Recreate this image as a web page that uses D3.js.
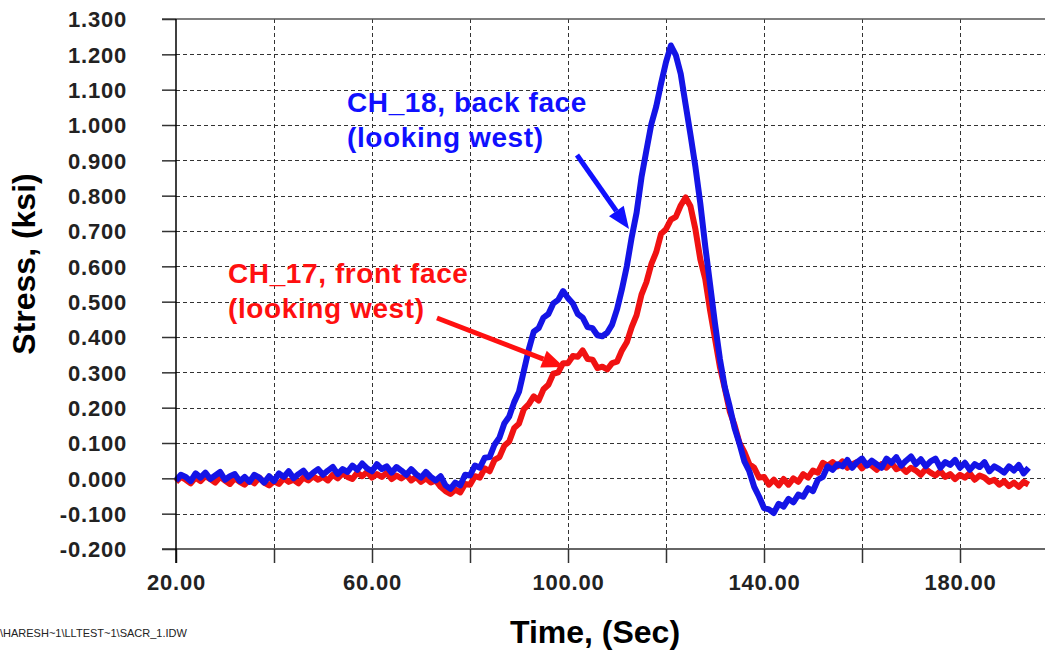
<!DOCTYPE html>
<html>
<head>
<meta charset="utf-8">
<script src="https://cdn.jsdelivr.net/npm/d3@7/dist/d3.min.js"></script>
<style>
  html, body { margin: 0; padding: 0; background: #ffffff; }
  svg { display: block; }
  text { font-family: "Liberation Sans", Arial, Helvetica, sans-serif; }
</style>
</head>
<body>
<svg id="chart" width="1045" height="651"></svg>
<script>
// ---- data (time in seconds, stress in ksi) ----
const timeStart = 20;   // first sample time, 1 s apart
const ch18 = [
 -0.006, 0.010, 0.004,-0.008, 0.014, 0.002, 0.016,-0.002, 0.008, 0.018,
 -0.004, 0.006, 0.012,-0.008, 0.004,-0.010, 0.010, 0.002,-0.012, 0.006,
 -0.008, 0.014, 0.004, 0.020, 0.000, 0.012, 0.022, 0.004, 0.016, 0.026,
  0.010, 0.022, 0.032, 0.012, 0.026, 0.018, 0.036, 0.024, 0.042, 0.028,
  0.020, 0.040, 0.026, 0.034, 0.016, 0.032, 0.022, 0.010, 0.026, 0.012,
  0.002, 0.018, 0.004,-0.006, 0.006,-0.020,-0.030,-0.012,-0.020, 0.010,
  0.008, 0.036, 0.030, 0.058, 0.060, 0.095, 0.115, 0.155, 0.175, 0.215,
  0.245, 0.305, 0.365, 0.415, 0.425, 0.455, 0.465, 0.495, 0.505, 0.530,
  0.510, 0.495, 0.465, 0.455, 0.428, 0.425, 0.405, 0.402, 0.412, 0.435,
  0.478, 0.535, 0.600, 0.682, 0.752, 0.852, 0.928, 1.002, 1.052, 1.118,
  1.178, 1.225, 1.198, 1.145, 1.058, 0.972, 0.882, 0.778, 0.658, 0.548,
  0.438, 0.338, 0.258, 0.203, 0.142, 0.098, 0.048, 0.020,-0.024,-0.052,
 -0.084,-0.088,-0.098,-0.072,-0.080,-0.058,-0.068,-0.046,-0.052,-0.028,
 -0.036,-0.004, 0.004, 0.034,
  0.024, 0.040, 0.034, 0.052, 0.030, 0.046, 0.056, 0.036, 0.050, 0.040,
  0.030, 0.056, 0.044, 0.060, 0.036, 0.050, 0.062, 0.040, 0.054, 0.034,
  0.048, 0.056, 0.030, 0.046, 0.038, 0.052, 0.030, 0.044, 0.024, 0.040,
  0.032, 0.046, 0.020, 0.034, 0.026, 0.016, 0.034, 0.022, 0.038, 0.014,
  0.030
];
const ch17 = [
 -0.010, 0.004,-0.004,-0.014, 0.002,-0.008, 0.006,-0.002,-0.012, 0.004,
 -0.006,-0.016, 0.000,-0.010,-0.018,-0.004,-0.014, 0.002,-0.012,-0.020,
 -0.008,-0.016, 0.000,-0.010,-0.004,-0.014, 0.002,-0.006, 0.006,-0.004,
  0.004,-0.006, 0.010, 0.000, 0.014, 0.004,-0.002, 0.016, 0.006, 0.018,
  0.002, 0.012, 0.004, 0.016,-0.002, 0.008, 0.000, 0.010,-0.006, 0.004,
 -0.010, 0.000,-0.012,-0.006,-0.024,-0.036,-0.044,-0.032,-0.040,-0.016,
 -0.018, 0.006, 0.002, 0.028, 0.020, 0.052, 0.060, 0.092, 0.104, 0.142,
  0.155, 0.196, 0.210, 0.232, 0.220, 0.252, 0.265, 0.296, 0.300, 0.326,
  0.326, 0.346, 0.344, 0.362, 0.338, 0.336, 0.312, 0.316, 0.308, 0.326,
  0.330, 0.362, 0.385, 0.428, 0.462, 0.520, 0.555, 0.606, 0.640, 0.692,
  0.705, 0.732, 0.740, 0.772, 0.795, 0.770, 0.705, 0.620, 0.565, 0.475,
  0.395, 0.315, 0.255, 0.190, 0.150, 0.100, 0.074, 0.040, 0.030, 0.002,
  0.004,-0.018,-0.004,-0.020,-0.002,-0.018, 0.000,-0.010, 0.012, 0.002,
  0.022, 0.016, 0.044, 0.036,
  0.046, 0.034, 0.048, 0.030, 0.040, 0.046, 0.028, 0.042, 0.036, 0.024,
  0.040, 0.030, 0.044, 0.026, 0.032, 0.018, 0.030, 0.022, 0.010, 0.026,
  0.016, 0.008, 0.020, 0.004, 0.012,-0.002, 0.010, 0.002, 0.014,-0.004,
  0.008, 0.002,-0.010,-0.004,-0.018,-0.008,-0.022,-0.012,-0.024,-0.010,
 -0.018
];
const yTicks = [-0.2,-0.1,0,0.1,0.2,0.3,0.4,0.5,0.6,0.7,0.8,0.9,1.0,1.1,1.2,1.3];
const xTicks = [20,40,60,80,100,120,140,160,180];
const xTickLabels = [20,60,100,140,180];
const annotations = [
  {lines:["CH_18, back face","(looking west)"], color:"#1010ff"},
  {lines:["CH_17, front face","(looking west)"], color:"#ff1010"}
];
const xTitle = "Time, (Sec)";
const yTitle = "Stress, (ksi)";
const footer = "\\HARESH~1\\LLTEST~1\\SACR_1.IDW";

(function () {
// ---- layout ----
const svg = d3.select("#chart");
const pL = 176, pT = 19, pB = 549, W = 1045;
const x = d3.scaleLinear().domain([20, 200]).range([pL, pL + 180 * 4.9]);
const y = d3.scaleLinear().domain([-0.2, 1.3]).range([pB, pT]);
const fmtY = d => d3.format(".3f")(d).replace("\u2212", "-");

// grid
const grid = svg.append("g");
grid.selectAll("line.hg").data(yTicks.filter(v => v > -0.15 && v < 1.25)).enter()
  .append("line").attr("x1", pL).attr("x2", W)
  .attr("y1", d => Math.round(y(d)) + 0.5).attr("y2", d => Math.round(y(d)) + 0.5)
  .attr("stroke", "#333").attr("stroke-width", 1).attr("stroke-dasharray", "4,3");
grid.selectAll("line.vg").data(xTicks.filter(v => v > 20)).enter()
  .append("line").attr("y1", pT).attr("y2", pB)
  .attr("x1", d => Math.round(x(d)) + 0.5).attr("x2", d => Math.round(x(d)) + 0.5)
  .attr("stroke", "#333").attr("stroke-width", 1).attr("stroke-dasharray", "4,3");

// top solid line
svg.append("line").attr("x1", 162).attr("x2", W).attr("y1", y(1.3)).attr("y2", y(1.3))
  .attr("stroke", "#555").attr("stroke-width", 1.5);

// data lines
const line = d3.line().x((d, i) => x(timeStart + i)).y(d => y(d)).curve(d3.curveLinear);
svg.append("path").datum(ch17).attr("d", line).attr("fill", "none")
  .attr("stroke", "#f01212").attr("stroke-width", 6).attr("stroke-linejoin", "round");
svg.append("path").datum(ch18).attr("d", line).attr("fill", "none")
  .attr("stroke", "#1414e6").attr("stroke-width", 6).attr("stroke-linejoin", "round");

// axes
const yAxis = d3.axisLeft(y).tickValues(yTicks).tickSize(14).tickFormat(fmtY);
const gy = svg.append("g").attr("transform", `translate(${pL},0)`).call(yAxis);
gy.select(".domain").remove();
gy.selectAll(".tick line").attr("stroke", "#333").attr("stroke-width", 1.5);
gy.selectAll(".tick text").attr("x", -49).attr("font-size", 22).attr("font-weight", "bold")
  .attr("letter-spacing", 0.8).attr("fill", "#222").attr("dy", "0.36em")
  .style("font-family", '"Liberation Sans", Arial, sans-serif');

const xAxis = d3.axisBottom(x).tickValues(xTicks).tickSize(14)
  .tickFormat(d => xTickLabels.includes(d) ? d3.format(".2f")(d) : "");
const gx = svg.append("g").attr("transform", `translate(0,${pB})`).call(xAxis);
gx.select(".domain").remove();
gx.selectAll(".tick line").attr("stroke", "#333").attr("stroke-width", 1.5);
gx.selectAll(".tick text").attr("y", 25).attr("dy", "0.71em").attr("font-size", 22)
  .attr("font-weight", "bold").attr("letter-spacing", 0.8).attr("fill", "#222")
  .style("font-family", '"Liberation Sans", Arial, sans-serif');

// axis lines
svg.append("line").attr("x1", 162).attr("x2", W).attr("y1", pB).attr("y2", pB)
  .attr("stroke", "#333").attr("stroke-width", 1.5);
svg.append("line").attr("x1", pL).attr("x2", pL).attr("y1", pT).attr("y2", pB + 14)
  .attr("stroke", "#000").attr("stroke-width", 1.5);

// titles
svg.append("text").attr("x", 595).attr("y", 643).attr("text-anchor", "middle")
  .attr("font-size", 32).attr("font-weight", "bold").attr("fill", "#000").text(xTitle);
svg.append("text").attr("transform", "translate(35,264) rotate(-90)").attr("text-anchor", "middle")
  .attr("font-size", 32).attr("font-weight", "bold").attr("fill", "#000").text(yTitle);
svg.append("text").attr("x", 0).attr("y", 637).attr("font-size", 11).attr("fill", "#222")
  .text(footer);

// annotations
const annPos = [{x: 347, y: 112}, {x: 228, y: 283}];
annotations.forEach((a, k) => {
  a.lines.forEach((t, j) => {
    svg.append("text").attr("x", annPos[k].x).attr("y", annPos[k].y + j * 35)
      .attr("font-size", 28).attr("font-weight", "bold").attr("letter-spacing", 0.6)
      .attr("fill", a.color).text(t);
  });
});

// arrows
function arrow(x1, y1, x2, y2, color) {
  const ang = Math.atan2(y2 - y1, x2 - x1);
  const hl = 22, hw = 9;
  const bx = x2 - hl * Math.cos(ang), by = y2 - hl * Math.sin(ang);
  svg.append("line").attr("x1", x1).attr("y1", y1).attr("x2", bx).attr("y2", by)
    .attr("stroke", color).attr("stroke-width", 5);
  const px = -Math.sin(ang), py = Math.cos(ang);
  svg.append("polygon").attr("points",
    `${x2},${y2} ${bx + px * hw},${by + py * hw} ${bx - px * hw},${by - py * hw}`)
    .attr("fill", color);
}
arrow(577, 155, 629, 229, "#1010ff");
arrow(437, 318, 564, 367, "#ff1010");
})();
</script>
</body>
</html>
